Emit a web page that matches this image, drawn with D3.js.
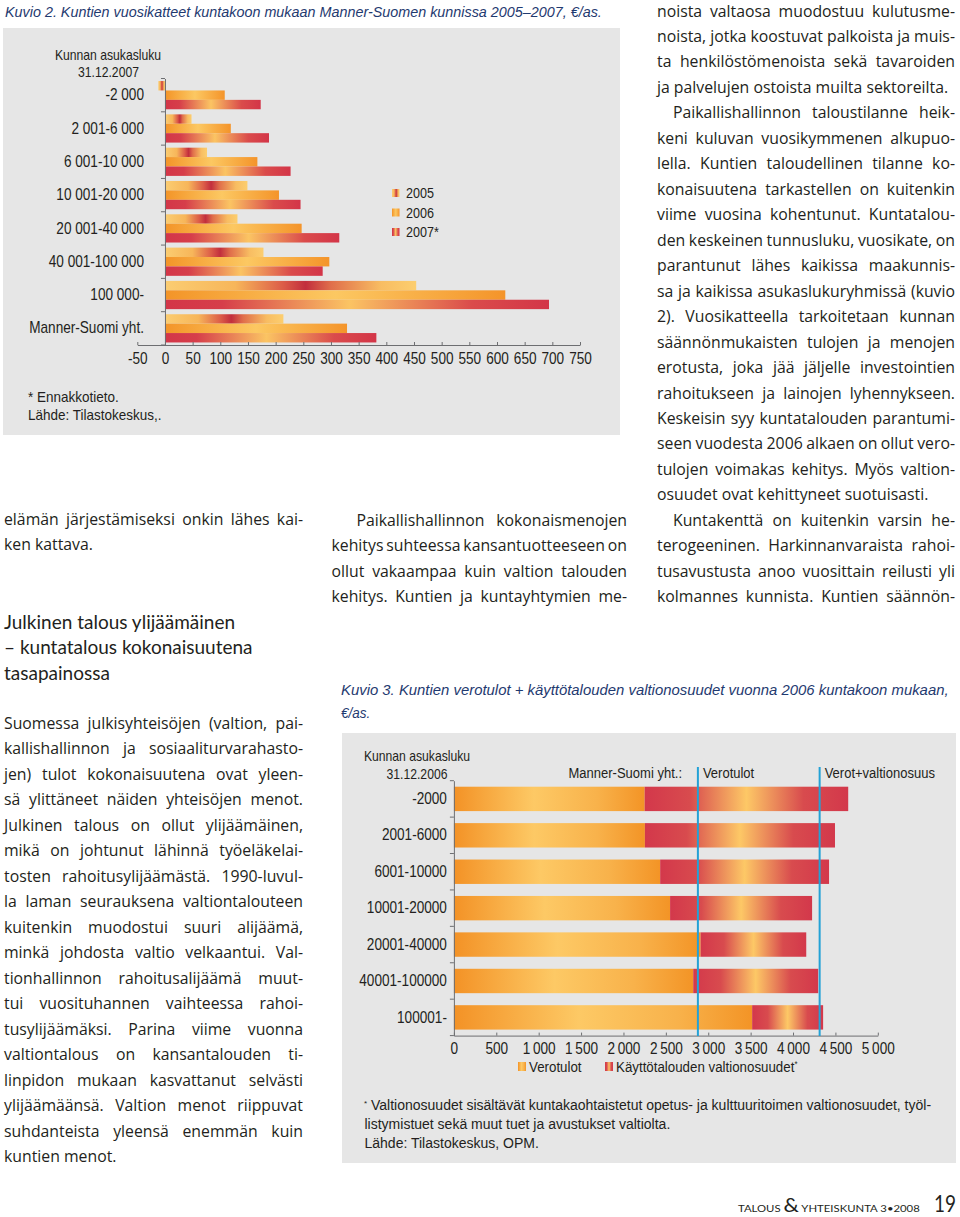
<!DOCTYPE html>
<html><head><meta charset="utf-8">
<script src="https://cdn.jsdelivr.net/npm/d3@7"></script>
<style>
html,body{margin:0;padding:0;background:#fff;}
body{width:960px;height:1217px;overflow:hidden;position:relative;}
#page{position:absolute;left:0;top:0;}
.ln{position:absolute;white-space:nowrap;font-family:'Open Sans',Lato,sans-serif;font-size:15.8px;color:#231f20;height:25px;line-height:25px;}
.j{text-align:justify;text-align-last:justify;word-spacing:-2px;}
.l{text-align:left;}
.hd{position:absolute;white-space:nowrap;font-family:Lato,'Open Sans',sans-serif;font-size:19px;color:#231f20;line-height:26px;}
</style></head><body>
<svg id="page" width="960" height="1217"></svg>
<div id="txt"></div>
<script>
// ---------- Chart 1 data ----------
const categories1 = ["-2 000","2 001-6 000","6 001-10 000","10 001-20 000","20 001-40 000","40 001-100 000","100 000-","Manner-Suomi yht."];
const years1 = ["2005","2006","2007*"];
const v2005 = [-12, 48, 76, 149, 131, 178, 454, 214];
const v2006 = [108, 119, 167, 206, 247, 297, 615, 329];
const v2007 = [173, 188, 227, 245, 315, 285, 694, 382];
const ticks1 = [-50,0,50,100,150,200,250,300,350,400,450,500,550,600,650,700,750];

// ---------- Chart 2 data ----------
const categories2 = ["-2000","2001-6000","6001-10000","10001-20000","20001-40000","40001-100000","100001-"];
const verotulot = [2250, 2253, 2433, 2550, 2910, 2823, 3518];
const valtionosuudet = [2401, 2242, 1992, 1675, 1246, 1474, 837];
const series2 = ["Verotulot","Käyttötalouden valtionosuudet"];
const refValues = [2878, 4314];
const refLabels = ["Verotulot","Verot+valtionosuus"];
const ticks2 = [0,500,1000,1500,2000,2500,3000,3500,4000,4500,5000];

const CF = "'Liberation Sans',Arial,sans-serif";
const TXT = "#231f20";
const svg = d3.select("#page");
const defs = svg.append("defs");
function grad(id, stops){
  const g = defs.append("linearGradient").attr("id", id).attr("x1","0").attr("x2","1").attr("y1","0").attr("y2","0");
  stops.forEach(([o,c]) => g.append("stop").attr("offset", o).attr("stop-color", c));
}
function condense(sel, sx){
  sel.each(function(){
    const t = d3.select(this);
    const x = +t.attr("x") || 0, y = +t.attr("y") || 0;
    t.attr("transform", `translate(${x},${y}) scale(${sx},1) translate(${-x},${-y})`);
  });
  return sel;
}
function fitWidth(sel, w){
  sel.each(function(){
    const L = this.getComputedTextLength();
    condense(d3.select(this), w / L);
  });
  return sel;
}
grad("g0", [[0,"#fbcd72"],[0.28,"#f7b65a"],[0.47,"#dc5c48"],[0.56,"#c22e3d"],[0.66,"#e06e4b"],[0.86,"#f8bd62"],[1,"#fcce6f"]]);
grad("g1", [[0,"#f39428"],[0.5,"#fcc862"],[1,"#f4942a"]]);
grad("g2", [[0,"#d33548"],[0.15,"#d63e4a"],[0.48,"#fbc463"],[0.8,"#da4b4b"],[1,"#d33548"]]);
grad("gV", [[0,"#f39226"],[0.42,"#fdc965"],[0.75,"#f8b24b"],[1,"#f39426"]]);
grad("gK", [[0,"#d3384b"],[0.22,"#d84b4e"],[0.5,"#fdc866"],[0.78,"#d84b4e"],[1,"#d3384b"]]);

// ---------- Titles ----------
const t1 = svg.append("text").attr("x",5).attr("y",17).attr("font-family",CF).attr("font-style","italic")
  .attr("font-size",15.5).attr("fill","#1f3a70")
  .text("Kuvio 2. Kuntien vuosikatteet kuntakoon mukaan Manner-Suomen kunnissa 2005–2007, €/as.");
fitWidth(t1, 597);
const t3 = svg.append("text").attr("x",341).attr("y",695).attr("font-family",CF).attr("font-style","italic")
  .attr("font-size",15.5).attr("fill","#1f3a70")
  .text("Kuvio 3. Kuntien verotulot + käyttötalouden valtionosuudet vuonna 2006 kuntakoon mukaan,");
fitWidth(t3, 608);
const t3b = svg.append("text").attr("x",341).attr("y",718).attr("font-family",CF).attr("font-style","italic")
  .attr("font-size",15.5).attr("fill","#1f3a70").text("€/as.");
condense(t3b, 0.87);

// ---------- Chart 1 ----------
svg.append("rect").attr("x",3).attr("y",28).attr("width",617).attr("height",407).attr("fill","#e6e6e6");
const c1 = svg.append("g").attr("font-family",CF).attr("fill",TXT);
const x1 = d3.scaleLinear().domain([-50,750]).range([137.3,580]);
const y1 = d3.scaleBand().domain(categories1).range([78.5,345]).padding(0);
const yy1 = d3.scaleBand().domain(years1).range([0,y1.bandwidth()]).paddingOuter(0.27).paddingInner(0);
const s1 = [v2005, v2006, v2007];
years1.forEach((yr,i) => {
  c1.append("g").selectAll("rect").data(categories1.map((c,j) => ({c, v: s1[i][j]}))).join("rect")
    .attr("x", d => x1(Math.min(0,d.v))).attr("width", d => Math.abs(x1(d.v) - x1(0)))
    .attr("y", d => y1(d.c) + yy1(yr)).attr("height", yy1.bandwidth()).attr("fill", `url(#g${i})`);
});
const ax1 = c1.append("g").attr("transform",`translate(0,${y1.range()[1]})`)
  .call(d3.axisBottom(x1).tickValues(ticks1).tickFormat(d => String(d)).tickSizeInner(-3).tickSizeOuter(0).tickPadding(8));
ax1.selectAll("text").attr("font-size",16).attr("font-family",CF).attr("fill",TXT);
condense(ax1.selectAll("text"), 0.85);
ax1.selectAll("line,path").attr("stroke","#6d6e71");
const ay1 = c1.append("g").attr("transform",`translate(${x1(0)},0)`)
  .call(d3.axisLeft(y1).tickSize(0).tickPadding(21));
ay1.select(".domain").attr("stroke","#6d6e71");
ay1.selectAll("text").attr("font-size",16).attr("font-family",CF).attr("fill",TXT);
condense(ay1.selectAll("text"), 0.85);
c1.append("g").selectAll("line").data(categories1.map(c => y1(c)).concat([y1.range()[1]])).join("line")
  .attr("x1",x1(0)-4).attr("x2",x1(0)).attr("y1",d=>d).attr("y2",d=>d).attr("stroke","#6d6e71");
const hdr1 = c1.append("g").attr("font-size",14.5).attr("text-anchor","middle");
hdr1.append("text").attr("x",108).attr("y",60).text("Kunnan asukasluku");
hdr1.append("text").attr("x",108.5).attr("y",77).text("31.12.2007");
condense(hdr1.selectAll("text"), 0.84);
const lg1 = c1.append("g");
years1.forEach((yr,i) => {
  const yy = 193 + i*19.5;
  lg1.append("rect").attr("x",392).attr("y",yy-4).attr("width",7.5).attr("height",8).attr("fill",`url(#g${i})`);
  lg1.append("text").attr("x",406).attr("y",yy).attr("dy","0.35em").attr("font-size",15).text(yr);
});
condense(lg1.selectAll("text"), 0.84);
const fn1 = c1.append("g").attr("font-size",15);
fn1.append("text").attr("x",28).attr("y",402).text("* Ennakkotieto.");
fn1.append("text").attr("x",28).attr("y",420).text("Lähde: Tilastokeskus,.");
condense(fn1.selectAll("text"), 0.9);

// ---------- Chart 2 ----------
svg.append("rect").attr("x",342).attr("y",733).attr("width",614).attr("height",430).attr("fill","#e6e6e6");
const c2 = svg.append("g").attr("font-family",CF).attr("fill",TXT);
const x2 = d3.scaleLinear().domain([0,5000]).range([453.9,877.8]);
const y2 = d3.scaleBand().domain(categories2).range([780.7,1035.6]).paddingInner(0.33).paddingOuter(0.165);
const rows2 = categories2.map((c,i) => ({cat:c, [series2[0]]: verotulot[i], [series2[1]]: valtionosuudet[i]}));
const stack2 = d3.stack().keys(series2)(rows2);
const fills2 = ["url(#gV)","url(#gK)"];
stack2.forEach((layer,k) => {
  c2.append("g").selectAll("rect").data(layer).join("rect")
    .attr("x", d => x2(d[0])).attr("width", d => x2(d[1]) - x2(d[0]))
    .attr("y", d => y2(d.data.cat)).attr("height", y2.bandwidth()).attr("fill", fills2[k]);
});
const loc = d3.formatLocale({decimal:",", thousands:"\u2009", grouping:[3], currency:["","€"]});
const ax2 = c2.append("g").attr("transform",`translate(0,1035.6)`)
  .call(d3.axisBottom(x2).tickValues(ticks2).tickFormat(loc.format(",")).tickSizeInner(-3).tickSizeOuter(0).tickPadding(7));
ax2.selectAll("text").attr("font-size",16).attr("font-family",CF).attr("fill",TXT);
condense(ax2.selectAll("text"), 0.85);
ax2.selectAll("line,path").attr("stroke","#6d6e71");
const ay2 = c2.append("g").attr("transform",`translate(${x2(0)},0)`)
  .call(d3.axisLeft(y2).tickSize(0).tickPadding(7));
ay2.select(".domain").attr("stroke","#6d6e71");
ay2.selectAll("text").attr("font-size",16).attr("font-family",CF).attr("fill",TXT);
condense(ay2.selectAll("text"), 0.85);
const step2 = y2.step();
c2.append("g").selectAll("line").data(d3.range(categories2.length+1).map(i => 780.7 + i*step2)).join("line")
  .attr("x1",x2(0)-4).attr("x2",x2(0)).attr("y1",d=>d).attr("y2",d=>d).attr("stroke","#6d6e71");
c2.append("g").selectAll("line").data(refValues).join("line")
  .attr("x1",d=>x2(d)).attr("x2",d=>x2(d)).attr("y1",767).attr("y2",1036).attr("stroke","#23a2d6").attr("stroke-width",2);
const lab2 = c2.append("g").attr("font-size",15.5);
lab2.selectAll("text").data(refValues).join("text")
  .attr("x",d=>x2(d)+5).attr("y",778).text((d,i)=>refLabels[i]);
lab2.append("text").attr("x",682).attr("y",778).attr("text-anchor","end").text("Manner-Suomi yht.:");
const hdr2 = c2.append("g").attr("font-size",14.5);
hdr2.append("text").attr("x",417).attr("y",761).attr("text-anchor","middle").text("Kunnan asukasluku");
hdr2.append("text").attr("x",417).attr("y",779).attr("text-anchor","middle").text("31.12.2006");
condense(lab2.selectAll("text"), 0.84);
condense(hdr2.selectAll("text"), 0.84);
// legend
const lgx = [518, 605];
const lg2 = c2.append("g");
series2.forEach((s,i) => {
  lg2.append("rect").attr("x",lgx[i]).attr("y",1062).attr("width",8).attr("height",9).attr("fill",fills2[i]);
  const t = lg2.append("text").attr("x",lgx[i]+11).attr("y",1072).attr("font-size",15.5).text(s);
  if (i === 1) t.append("tspan").attr("baseline-shift","super").attr("font-size",9).text("*");
});
condense(lg2.selectAll("text"), 0.86);
const fn = c2.append("g").attr("font-size",14);
const f1 = fn.append("text").attr("x",364).attr("y",1110);
f1.append("tspan").attr("baseline-shift","super").attr("font-size",8).text("*");
f1.append("tspan").attr("x",371).text("Valtionosuudet sisältävät kuntakaohtaistetut opetus- ja kulttuuritoimen valtionosuudet, työl-");
fn.append("text").attr("x",364.5).attr("y",1129).text("listymistuet sekä muut tuet ja avustukset valtiolta.");
fn.append("text").attr("x",364.5).attr("y",1148).text("Lähde: Tilastokeskus, OPM.");

// ---------- Footer ----------
const ft = svg.append("text").attr("x",738).attr("y",1212).attr("font-family","Lato,sans-serif").attr("fill",TXT);
ft.append("tspan").attr("font-size",10).text("TALOUS ");
ft.append("tspan").attr("font-size",19).text("&");
ft.append("tspan").attr("font-size",10).text(" YHTEISKUNTA 3•2008");
fitWidth(ft, 182);
const pg = svg.append("text").attr("x",934).attr("y",1212).attr("font-family","Lato,sans-serif").attr("font-size",24).attr("fill",TXT).text("19");
fitWidth(pg, 22);

// ---------- Body text ----------
const colR = [
["noista valtaosa muodostuu kulutusme-","j",0],
["noista, jotka koostuvat palkoista ja muis-","j",0],
["ta henkilöstömenoista sekä tavaroiden","j",0],
["ja palvelujen ostoista muilta sektoreilta.","l",0],
["Paikallishallinnon taloustilanne heik-","j",16],
["keni kuluvan vuosikymmenen alkupuo-","j",0],
["lella. Kuntien taloudellinen tilanne ko-","j",0],
["konaisuutena tarkastellen on kuitenkin","j",0],
["viime vuosina kohentunut. Kuntatalou-","j",0],
["den keskeinen tunnusluku, vuosikate, on","j",0],
["parantunut lähes kaikissa maakunnis-","j",0],
["sa ja kaikissa asukaslukuryhmissä (kuvio","j",0],
["2). Vuosikatteella tarkoitetaan kunnan","j",0],
["säännönmukaisten tulojen ja menojen","j",0],
["erotusta, joka jää jäljelle investointien","j",0],
["rahoitukseen ja lainojen lyhennykseen.","j",0],
["Keskeisin syy kuntatalouden parantumi-","j",0],
["seen vuodesta 2006 alkaen on ollut vero-","j",0],
["tulojen voimakas kehitys. Myös valtion-","j",0],
["osuudet ovat kehittyneet suotuisasti.","l",0],
["Kuntakenttä on kuitenkin varsin he-","j",16],
["terogeeninen. Harkinnanvaraista rahoi-","j",0],
["tusavustusta anoo vuosittain reilusti yli","j",0],
["kolmannes kunnista. Kuntien säännön-","j",0]
];
const colL1 = [
["elämän järjestämiseksi onkin lähes kai-","j",0],
["ken kattava.","l",0]
];
const colL2 = [
["Suomessa julkisyhteisöjen (valtion, pai-","j",0],
["kallishallinnon ja sosiaaliturvarahasto-","j",0],
["jen) tulot kokonaisuutena ovat yleen-","j",0],
["sä ylittäneet näiden yhteisöjen menot.","j",0],
["Julkinen talous on ollut ylijäämäinen,","j",0],
["mikä on johtunut lähinnä työeläkelai-","j",0],
["tosten rahoitusylijäämästä. 1990-luvul-","j",0],
["la laman seurauksena valtiontalouteen","j",0],
["kuitenkin muodostui suuri alijäämä,","j",0],
["minkä johdosta valtio velkaantui. Val-","j",0],
["tionhallinnon rahoitusalijäämä muut-","j",0],
["tui vuosituhannen vaihteessa rahoi-","j",0],
["tusylijäämäksi. Parina viime vuonna","j",0],
["valtiontalous on kansantalouden ti-","j",0],
["linpidon mukaan kasvattanut selvästi","j",0],
["ylijäämäänsä. Valtion menot riippuvat","j",0],
["suhdanteista yleensä enemmän kuin","j",0],
["kuntien menot.","l",0]
];
const colM = [
["Paikallishallinnon kokonaismenojen","j",25],
["kehitys suhteessa kansantuotteeseen on","j",0],
["ollut vakaampaa kuin valtion talouden","j",0],
["kehitys. Kuntien ja kuntayhtymien me-","j",0]
];
const heading = ["Julkinen talous ylijäämäinen","– kuntatalous kokonaisuutena","tasapainossa"];

const txt = d3.select("#txt");
function column(lines, x, w, y0, step){
  txt.selectAll(null).data(lines).join("div")
    .attr("class", d => "ln " + d[1])
    .style("left", d => (x + d[2]) + "px")
    .style("width", d => (w - d[2]) + "px")
    .style("top", (d,i) => (y0 + i*step - 12.5) + "px")
    .text(d => d[0]);
}
column(colR, 657, 298, 11, 25.47);
column(colL1, 4, 299, 519, 25.5);
column(colL2, 4, 299, 723, 25.5);
column(colM, 331.5, 295.5, 520, 25.5);
txt.selectAll(null).data(heading).join("div").attr("class","hd")
  .style("left","4px").style("top",(d,i) => (621.5 + i*25.7 - 13) + "px").text(d => d);
</script>
</body></html>
